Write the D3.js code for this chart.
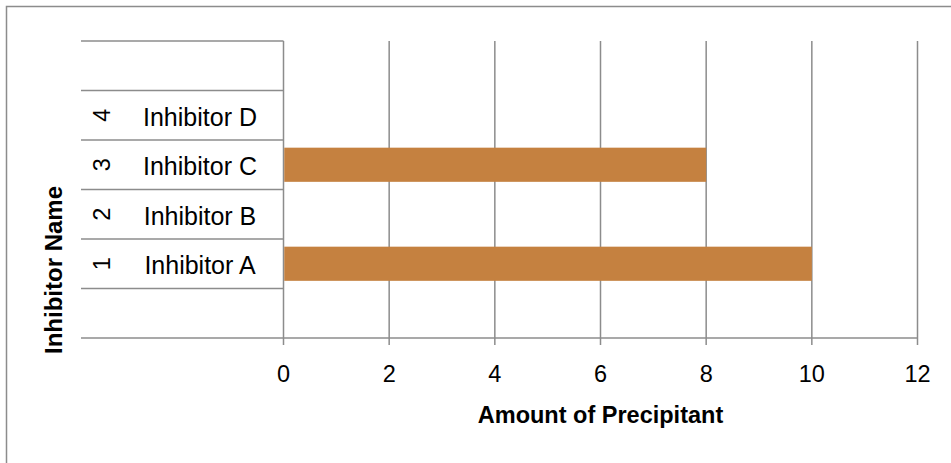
<!DOCTYPE html>
<html>
<head>
<meta charset="utf-8">
<script src="https://cdn.jsdelivr.net/npm/d3@7"></script>
<style>
  html, body { margin: 0; padding: 0; background: #fff; }
  svg { display: block; }
  text { font-family: "Liberation Sans", Arial, sans-serif; fill: #000; }
</style>
</head>
<body>
<div id="chart"></div>
<script>
// ---- data ----
const categoryIds = [1, 2, 3, 4];
const categories = ["Inhibitor A", "Inhibitor B", "Inhibitor C", "Inhibitor D"];
const values = [10, null, 8, null];
const xTicks = [0, 2, 4, 6, 8, 10, 12];
const xTitle = "Amount of Precipitant";
const yTitle = "Inhibitor Name";

// ---- layout ----
const W = 951, H = 463;
const plotLeft = 283.5, plotRight = 917.5, plotTop = 41, plotBottom = 338;
const catLeft = 81;
const gridColor = "#8c8c8c";
const barColor = "#c58140";

const svg = d3.select("#chart").append("svg").attr("width", W).attr("height", H);

// outer border
svg.append("rect")
  .attr("x", 6.5).attr("y", 6.5).attr("width", 1200).attr("height", 1200)
  .attr("fill", "none").attr("stroke", gridColor).attr("stroke-width", 1.5);

const x = d3.scaleLinear().domain([0, 12]).range([plotLeft, plotRight]);
// one empty slot below and above the categories
const y = d3.scaleLinear().domain([0, categories.length + 2]).range([plotBottom, plotTop]);

// vertical gridlines (with tick extension below axis)
svg.append("g").selectAll("line").data(xTicks).join("line")
  .attr("x1", d => x(d)).attr("x2", d => x(d))
  .attr("y1", plotTop).attr("y2", plotBottom + 7)
  .attr("stroke", gridColor).attr("stroke-width", 1.5);

// category divider lines
const slots = d3.range(0, categories.length + 3);
svg.append("g").selectAll("line").data(slots.filter(d => d > 0)).join("line")
  .attr("x1", catLeft).attr("x2", plotLeft)
  .attr("y1", d => y(d)).attr("y2", d => y(d))
  .attr("stroke", gridColor).attr("stroke-width", 1.5);

// x axis line
svg.append("line")
  .attr("x1", catLeft).attr("x2", plotRight)
  .attr("y1", y(0)).attr("y2", y(0))
  .attr("stroke", gridColor).attr("stroke-width", 1.5);

// bars
const bandH = Math.abs(y(1) - y(2));
const barH = bandH * 0.69;
const barData = categories.map((c, i) => ({ c, v: values[i], i })).filter(d => d.v != null);
svg.append("g").selectAll("rect").data(barData).join("rect")
  .attr("x", x(0) + 0.75)
  .attr("width", d => x(d.v) - x(0) - 0.75)
  .attr("y", d => y(d.i + 1.5) - barH / 2)
  .attr("height", barH)
  .attr("fill", barColor);

// x tick labels
svg.append("g").selectAll("text").data(xTicks).join("text")
  .attr("x", d => x(d)).attr("y", 382)
  .attr("text-anchor", "middle")
  .style("font-size", "23.5px")
  .text(d => d);

// x title
svg.append("text")
  .attr("x", (plotLeft + plotRight) / 2).attr("y", 423)
  .attr("text-anchor", "middle")
  .style("font-size", "23.5px").style("font-weight", "bold")
  .text(xTitle);

// category names
svg.append("g").selectAll("text").data(categories).join("text")
  .attr("x", 200).attr("y", (d, i) => y(i + 1.5) + 10.5)
  .attr("text-anchor", "middle")
  .style("font-size", "25px")
  .text(d => d);

// rotated category ids
svg.append("g").selectAll("text").data(categoryIds).join("text")
  .attr("transform", (d, i) => `translate(110,${y(i + 1.5)}) rotate(-90)`)
  .attr("text-anchor", "middle")
  .style("font-size", "23.5px")
  .text(d => d);

// y title
svg.append("text")
  .attr("transform", "translate(62,270) rotate(-90)")
  .attr("text-anchor", "middle")
  .style("font-size", "24px").style("font-weight", "bold")
  .text(yTitle);
</script>
</body>
</html>
